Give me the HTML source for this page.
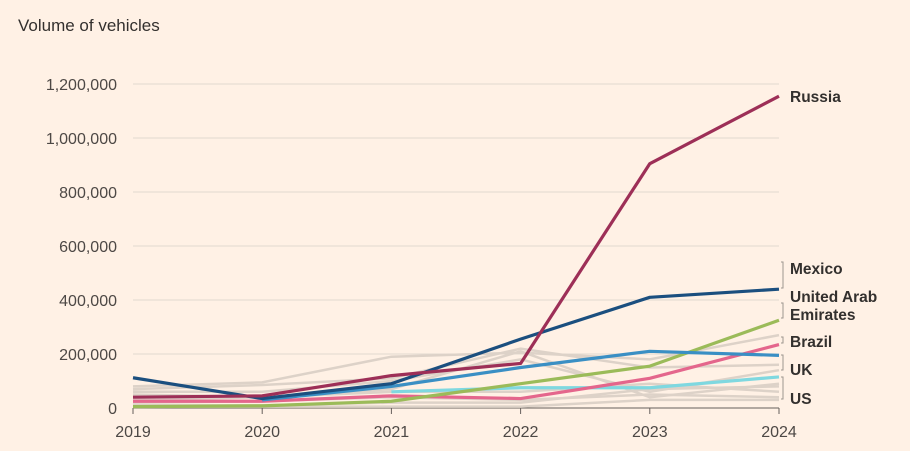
<!DOCTYPE html>
<html><head><meta charset="utf-8"><style>
body{margin:0;background:#fff1e5;}
svg{display:block;font-family:"Liberation Sans",sans-serif;}
</style></head><body>
<svg id="c" width="910" height="451">
<text x="18" y="31" font-size="17" fill="#33302e">Volume of vehicles</text>
<g id="grid"></g><g id="grey"></g><g id="main"></g><g id="labels"></g>
</svg>
<script>
const years=[2019,2020,2021,2022,2023,2024];
const yTicks=[0,200000,400000,600000,800000,1000000,1200000];
const tickLabels=["0","200,000","400,000","600,000","800,000","1,000,000","1,200,000"];
const greySeries=[
[80000,95000,190000,205000,180000,270000],
[70000,85000,110000,220000,150000,160000],
[60000,60000,100000,180000,60000,140000],
[50000,40000,70000,210000,40000,90000],
[30000,40000,60000,60000,90000,60000],
[20000,25000,40000,30000,50000,40000],
[10000,10000,20000,20000,70000,80000],
[5000,5000,5000,5000,30000,30000]];
const russia=[40000,45000,120000,165000,905000,1155000];
const mexico=[112000,35000,90000,255000,410000,440000];
const uk=[null,30000,80000,150000,210000,195000];
const uae=[5000,8000,25000,90000,155000,325000];
const brazil=[25000,25000,45000,35000,110000,235000];
const us=[null,null,60000,75000,75000,115000];
const X=y=>133+(y-2019)*(779-133)/5;
const Y=v=>408-v*324/1200000;
const NS="http://www.w3.org/2000/svg";
function el(t,a,p){const e=document.createElementNS(NS,t);for(const k in a)e.setAttribute(k,a[k]);document.getElementById(p).appendChild(e);return e;}
yTicks.forEach((t,i)=>{
 const l=el('line',{x1:133,x2:779,y1:Y(t),y2:Y(t),stroke:t?'#e2d9d0':'#66605c','stroke-width':1},'grid');
 
 
 const tx=el('text',{x:117,y:Y(t)+6,'text-anchor':'end','font-size':16,fill:'#4d4845'},'grid');
 tx.textContent=tickLabels[i];
 
 
});
years.forEach(y=>{
 const l=el('line',{x1:X(y),x2:X(y),y1:408,y2:414,stroke:'#66605c'},'grid');
 
 
 const tx=el('text',{x:X(y),y:437,'text-anchor':'middle','font-size':16,fill:'#4d4845'},'grid');
 tx.textContent=y;
 
 
});
function pts(s){return s.map((v,i)=>v==null?null:X(years[i])+','+Y(v)).filter(p=>p).join(' ');}
greySeries.forEach(s=>{
 const p=el('polyline',{points:pts(s),fill:'none',stroke:'#ddd2c8','stroke-width':2.5},'grey');
 
 
});
[[us,'#7fd8e0','us-line'],[brazil,'#e4668c','brazil-line'],[uae,'#9bbb59','uae-line'],[uk,'#3a8fc4','uk-line'],[mexico,'#1b4f7f','mexico-line'],[russia,'#9d2f57','russia-line']].forEach(([s,c,n])=>{
 const p=el('polyline',{points:pts(s),fill:'none',stroke:c,'stroke-width':3.2,'stroke-linejoin':'round'},'main');
 
 
});
const labs=[["Russia",102],["Mexico",274],["United Arab",302],["Emirates",320],["Brazil",347],["UK",375],["US",404]];
labs.forEach(([t,y])=>{
 const tx=el('text',{x:790,y:y,'font-size':15.5,'font-weight':'bold',fill:'#33302e'},'labels');
 tx.textContent=t;
 
 
});
[[262,288],[303,318],[337,343],[355,370],[377,399]].forEach(([a,b])=>{
 const p=el('polyline',{points:`781,${a} 783,${a} 783,${b} 781,${b}`,fill:'none',stroke:'#9e9690','stroke-width':1},'labels');
 
 
});
</script>
</body></html>
